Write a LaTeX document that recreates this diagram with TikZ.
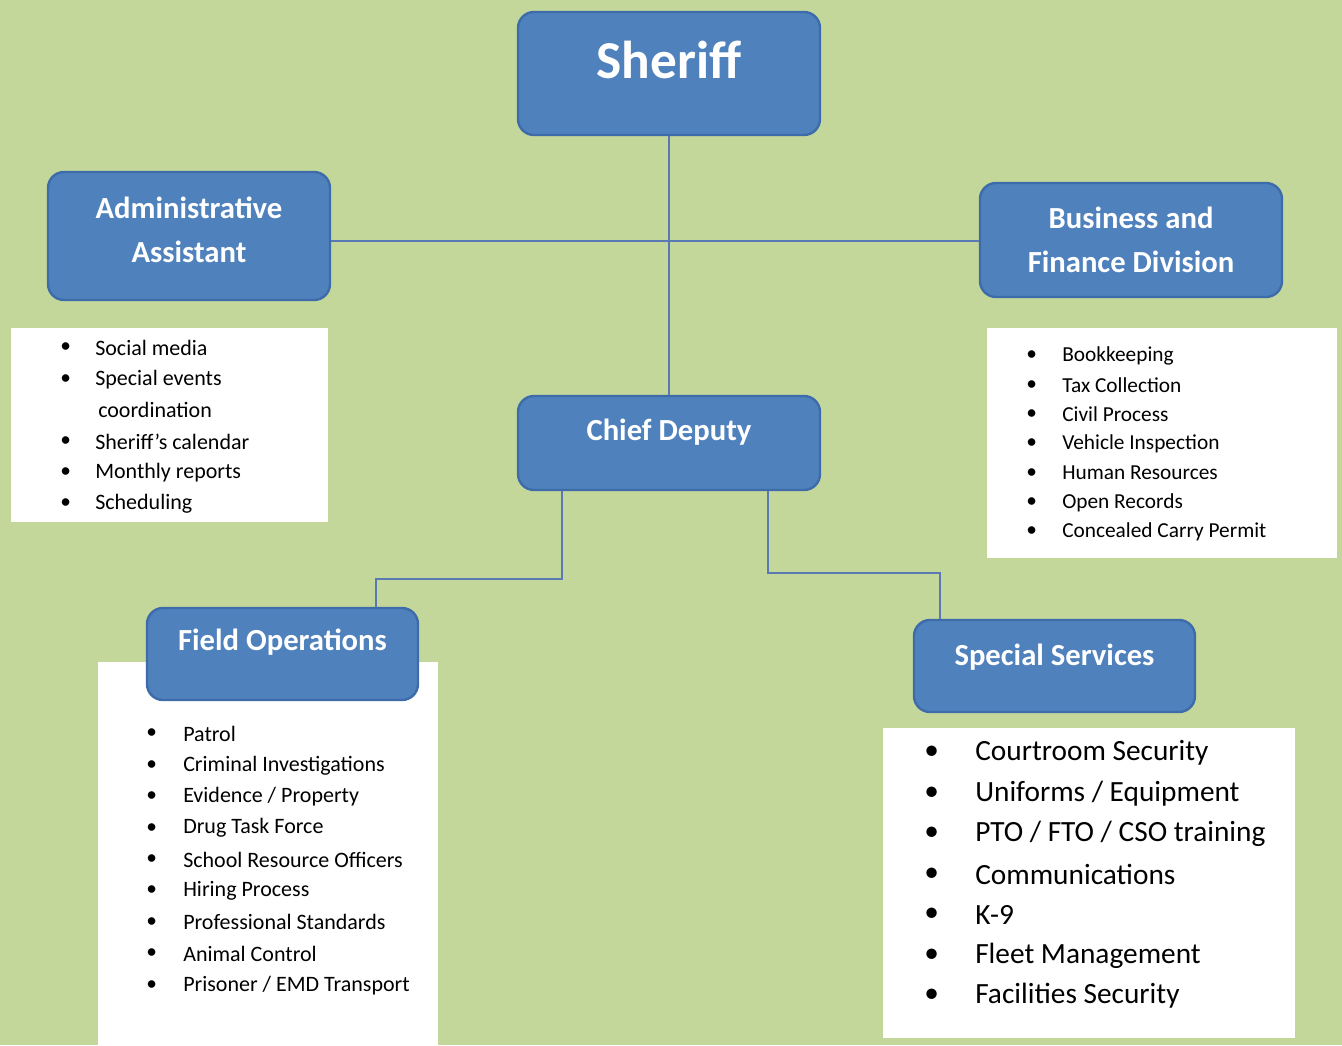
\documentclass[tikz,border=0pt]{standalone}
\usepackage{fontspec}
\setmainfont{Carlito}
\usepackage{tikz}
\usetikzlibrary{calc}
\usetikzlibrary{positioning}
\definecolor{bggreen}{HTML}{C4D79B}
\definecolor{boxblue}{HTML}{4F81BD}
\definecolor{boxedge}{HTML}{3E6BAA}
\definecolor{linkblue}{HTML}{5A78B4}
\tikzset{link/.style={draw=linkblue, line width=1.3pt}}
\tikzstyle{unit} = [rectangle, rounded corners=12pt, fill=boxblue, draw=boxedge, line width=1.8pt]
\tikzstyle{title} = [text=white, font=\fontsize{23}{33}\selectfont\bfseries, align=center]
\tikzstyle{duties} = [rectangle, fill=white, anchor=north west, inner sep=0pt]
\tikzstyle{duty} = [anchor=west, inner sep=0pt, font=\fontsize{16}{18}\selectfont]
\tikzstyle{bigduty} = [anchor=west, inner sep=0pt, font=\fontsize{22}{24}\selectfont]

\begin{document}
\begin{tikzpicture}[x=0.75pt, y=-0.75pt]
  \fill[bggreen] (0,0) rectangle (1342,1045);

  % white lists behind the boxes
  \node [duties, minimum width=237.75pt, minimum height=145.5pt] (admlist) at (11,328) {};
  \node [duties, minimum width=262.5pt, minimum height=172.5pt] (buslist) at (987,328) {};
  \node [duties, minimum width=255pt, minimum height=287.25pt] (fldlist) at (98,662) {};
  \node [duties, minimum width=309pt, minimum height=232.5pt] (spclist) at (883,728) {};

  \node [unit, minimum width=226.5pt, minimum height=92.25pt,
         label={[title, font=\fontsize{40}{44}\selectfont\bfseries, yshift=10pt]center:Sheriff}] (sheriff) at (669,73.5) {};
  \node [unit, minimum width=211.5pt, minimum height=96pt,
         label={[title, yshift=4.5pt]center:Administrative\\Assistant}] (admin) at (189,236) {};
  \node [unit, minimum width=226.5pt, minimum height=85.5pt,
         label={[title]center:Business and\\Finance Division}] (business) at (1131,240) {};
  \node [unit, minimum width=226.5pt, minimum height=70.5pt,
         label={[title, yshift=8pt]center:Chief Deputy}] (chief) at (669,443) {};
  \node [unit, minimum width=203.25pt, minimum height=69pt,
         label={[title, yshift=9pt]center:Field Operations}] (field) at (282.5,654) {};
  \node [unit, minimum width=210.75pt, minimum height=69pt,
         label={[title, yshift=7pt]center:Special Services}] (special) at (1054.5,666) {};

  \coordinate (hub) at (669,241);

  \draw [link] (sheriff.south) -- (chief.north);
  \draw [link] (admin.east |- hub) -- (business.west |- hub);
  \draw [link] ($(chief.south)+(-107,0)$) -- ++(0,88) -| ($(field.north)+(93.5,0)$);
  \draw [link] ($(chief.south)+(99,0)$) -- ++(0,82) -| ($(special.north)+(-114.5,0)$);

  % admin duties
  \foreach \y/\txt [count=\i] in {348/Social media, 380/Special events, 442/Sheriff’s calendar, 473/Monthly reports, 504/Scheduling} {
    \node [duty, font=\fontsize{16.5}{18}\selectfont] (adm-\i) at (95,\y) {\txt};
    \node [duty] (admdot-\i) at (60,\y) {•};
  }
  \node [duty, font=\fontsize{16.5}{18}\selectfont] (adm-cont) at (98,410) {coordination};

  % business duties
  \foreach \txt [count=\i] in {Bookkeeping, Tax Collection, Civil Process, Vehicle Inspection, Human Resources, Open Records, Concealed Carry Permit} {
    \node [duty] (bus-\i) at (1062,{356+29.3*(\i-1)}) {\txt};
    \node [duty] (busdot-\i) at (1026,{356+29.3*(\i-1)}) {•};
  }

  % field duties
  \foreach \txt [count=\i] in {Patrol, Criminal Investigations, Evidence / Property, Drug Task Force, School Resource Officers, Hiring Process, Professional Standards, Animal Control, Prisoner / EMD Transport} {
    \node [duty, font=\fontsize{16.5}{18}\selectfont] (fld-\i) at (183,{734+31.4*(\i-1)}) {\txt};
    \node [duty] (flddot-\i) at (146,{734+31.4*(\i-1)}) {•};
  }

  % special services duties
  \foreach \txt [count=\i] in {Courtroom Security, Uniforms / Equipment, PTO / FTO / CSO training, Communications, K-9, Fleet Management, Facilities Security} {
    \node [bigduty] (spc-\i) at (975,{753+40.5*(\i-1)}) {\txt};
    \node [bigduty] (spcdot-\i) at (924,{753+40.5*(\i-1)}) {•};
  }
\end{tikzpicture}
\end{document}
